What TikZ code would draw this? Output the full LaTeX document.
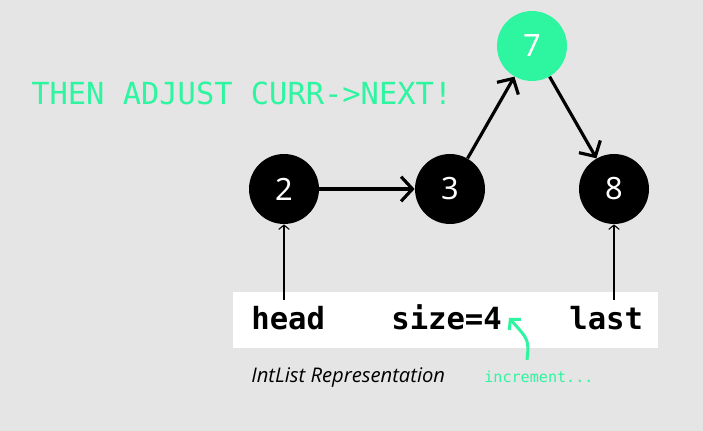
\documentclass[tikz,border=0pt]{standalone}
\usepackage{fontspec}
\usepackage{xcolor}
\usetikzlibrary{arrows.meta}
\newfontfamily\monofont{DejaVu Sans Mono}
\newfontfamily\numfont{Noto Sans}
\newfontfamily\capfont{Open Sans}
\definecolor{bggray}{HTML}{E5E5E5}
\definecolor{mint}{HTML}{2EF5A0}

\tikzset{
  listnode/.style={circle, fill=black, minimum size=70*0.02cm, inner sep=0pt,
    text=white, font=\numfont\fontsize{17.5}{20}\selectfont},
  newnode/.style={listnode, fill=mint},
  link/.style={line width=1.8pt, -{Straight Barb[length=6.5pt, width=14pt, line width=1.8pt]}},
  ptr/.style={line width=0.6pt, -{Straight Barb[length=2.5pt, width=6pt, line width=0.6pt]}},
  field/.style={inner sep=0pt, anchor=base west, font=\monofont\bfseries\fontsize{17.4}{20}\selectfont}
}

\begin{document}
\begin{tikzpicture}[x=0.02cm, y=-0.02cm]
    % background
    \fill[bggray] (0,0) rectangle (703,431);
    \useasboundingbox (0,0) rectangle (703,431);

    \node[inner sep=0pt, anchor=base west, text=mint,
      font=\monofont\fontsize{17.3}{20}\selectfont] (title) at (31,105) {THEN ADJUST CURR->NEXT!};

    % list nodes
    \node[listnode] (n2) at (284,189) {2};
    \node[listnode] (n3) at (450,189) {3};
    \node[newnode] (n7) at (532,46) {7};
    \node[listnode] (n8) at (614,189) {8};

    \draw[link] (n2) -- (n3);
    \draw[link] (n3) -- (n7);
    \draw[link] (n7) -- (n8);

    % IntList box
    \fill[white] (233,292) rectangle (658,348);
    \node[field] (head) at (251,330) {head};
    \node[field] (size) at (391,330) {size=4};
    \node[field] (last) at (569,330) {last};

    \coordinate (hp) at (284,300);
    \coordinate (lp) at (614,300);
    \draw[ptr] (hp) -- (n2);
    \draw[ptr] (lp) -- (n8);

    \node[inner sep=0pt, anchor=base west, font=\capfont\itshape\fontsize{11.5}{14}\selectfont]
      (cap) at (251,383) {IntList Representation};
    \node[inner sep=0pt, anchor=base west, text=mint, font=\monofont\fontsize{8.6}{10}\selectfont]
      (inc) at (484,383) {increment...};

    \coordinate (c1) at (527,360);
    \coordinate (c2) at (509,318);
    \draw[mint, line width=1.7pt, -{Straight Barb[length=4pt, width=9pt, line width=1.7pt]}]
      (c1) .. controls (529,340) .. (c2);
\end{tikzpicture}
\end{document}
